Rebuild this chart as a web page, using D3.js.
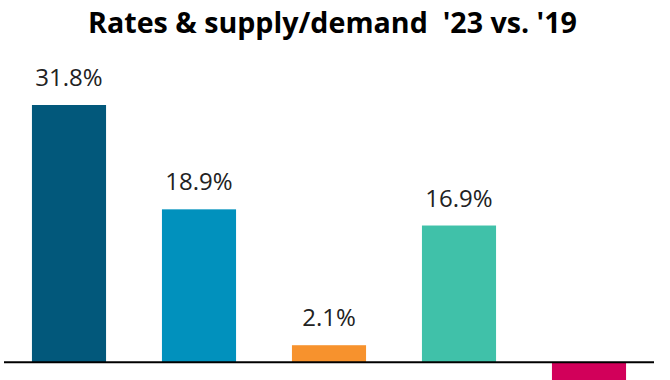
<!DOCTYPE html>
<html>
<head>
<meta charset="utf-8">
<script src="https://cdn.jsdelivr.net/npm/d3@7"></script>
<style>
  body { margin: 0; background: #fff; }
  svg { display: block; }
  .lbl { font-family: "Open Sans", sans-serif; font-size: 24px; fill: #222; }
  .title { font-family: "Open Sans", sans-serif; font-size: 29px; font-weight: bold; fill: #000; white-space: pre; }
</style>
</head>
<body>
<script>
// data
const categories = ["A", "B", "C", "D", "E"];
const values = [31.8, 18.9, 2.1, 16.9, -6.1];
const labels = ["31.8%", "18.9%", "2.1%", "16.9%", ""]; // last label falls outside the frame
const colors = ["#02587b", "#0191bd", "#f7922d", "#40c1a9", "#d2005a"];
const titleText = "Rates & supply/demand  '23 vs. '19";

const w = 670, h = 380;

const svg = d3.select("body").append("svg")
  .attr("width", w)
  .attr("height", h);

const x = d3.scaleBand()
  .domain(categories)
  .range([4, 654])
  .paddingInner(0.43)
  .paddingOuter(0.215);

const y = d3.scaleLinear()
  .domain([-2.2, 31.8])
  .range([380, 105]);

// bars
svg.selectAll("rect.bar")
  .data(values)
  .enter()
  .append("rect")
  .attr("class", "bar")
  .attr("x", (d, i) => x(categories[i]))
  .attr("width", x.bandwidth())
  .attr("y", d => y(Math.max(0, d)))
  .attr("height", d => Math.abs(y(d) - y(0)))
  .attr("fill", (d, i) => colors[i]);

// value labels (only the ones visible above the bars)
svg.selectAll("text.lbl")
  .data(values.map((v, i) => ({ v, i })).filter(d => labels[d.i] !== ""))
  .enter()
  .append("text")
  .attr("class", "lbl")
  .attr("text-anchor", "middle")
  .attr("x", d => x(categories[d.i]) + x.bandwidth() / 2)
  .attr("y", d => y(d.v) - 19)
  .text(d => labels[d.i]);

// zero line
svg.append("line")
  .attr("x1", 4)
  .attr("x2", 654)
  .attr("y1", y(0))
  .attr("y2", y(0))
  .attr("stroke", "#000")
  .attr("stroke-width", 2);

// title
svg.append("text")
  .attr("class", "title")
  .attr("x", 88)
  .attr("y", 33)
  .attr("textLength", 489)
  .attr("lengthAdjust", "spacingAndGlyphs")
  .text(titleText);
</script>
</body>
</html>
